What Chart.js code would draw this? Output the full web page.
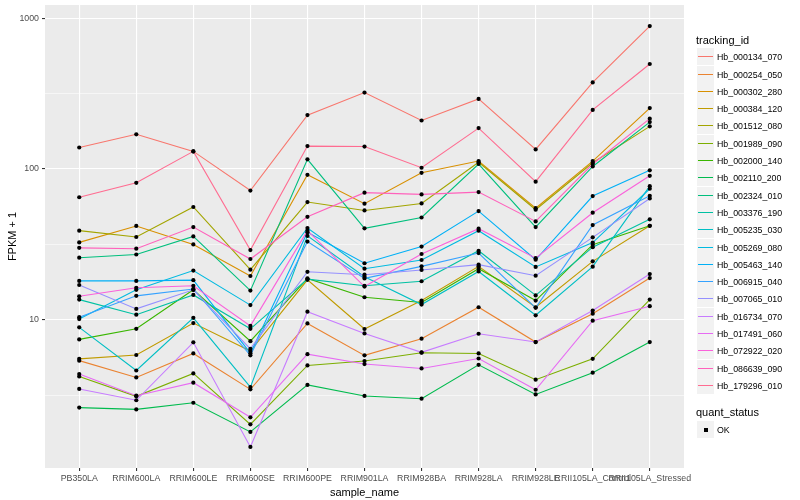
<!DOCTYPE html>
<html>
<head>
<meta charset="utf-8">
<script src="https://cdn.jsdelivr.net/npm/chart.js@4.4.1/dist/chart.umd.min.js"></script>
<style>
  html, body { margin: 0; padding: 0; background: #fff; }
  #wrap { position: relative; width: 800px; height: 500px; font-family: "Liberation Sans", Arial, sans-serif; }
  #wrap canvas { position: absolute; left: 0; top: 0; }
  .lg { position: absolute; white-space: nowrap; color: #000; }
  .lg-title { font-size: 11px; line-height: 13px; }
  .lg-key { position: absolute; width: 17px; height: 17px; background: #F2F2F2; }
  .lg-text { font-size: 8.8px; line-height: 10px; }
</style>
</head>
<body>
<div id="wrap">
  <canvas id="chart" width="800" height="500"></canvas>
  <div id="legend"></div>
</div>
<script>
const sampleNames = ['PB350LA', 'RRIM600LA', 'RRIM600LE', 'RRIM600SE', 'RRIM600PE', 'RRIM901LA',
    'RRIM928BA', 'RRIM928LA', 'RRIM928LE', 'RRII105LA_Control', 'RRII105LA_Stressed'];

const trackingIds = ['Hb_000134_070', 'Hb_000254_050', 'Hb_000302_280', 'Hb_000384_120', 'Hb_001512_080',
    'Hb_001989_090', 'Hb_002000_140', 'Hb_002110_200', 'Hb_002324_010', 'Hb_003376_190',
    'Hb_005235_030', 'Hb_005269_080', 'Hb_005463_140', 'Hb_006915_040', 'Hb_007065_010',
    'Hb_016734_070', 'Hb_017491_060', 'Hb_072922_020', 'Hb_086639_090', 'Hb_179296_010'];

// FPKM + 1, one value per sample
const hb_000134_070 = [139, 170, 131, 72, 228, 322, 210, 292, 135, 376, 889];
const hb_000254_050 = [5.35, 4.14, 5.97, 3.45, 9.45, 5.8, 7.48, 12.1, 7.11, 10.96, 18.9];
const hb_000302_280 = [32.6, 41.9, 31.6, 19.5, 91.6, 58.9, 94.4, 113, 55, 113, 254];
const hb_000384_120 = [5.5, 5.83, 9.5, 6.2, 18.4, 8.68, 13.4, 22.6, 12.1, 24.4, 42];
const hb_001512_080 = [39, 35.4, 56, 21.5, 60.4, 53.1, 59.1, 111, 53.7, 110, 192];
const hb_001989_090 = [4.2, 3.1, 4.4, 2.02, 4.97, 5.32, 6.04, 5.97, 4.0, 5.5, 13.6];
const hb_002000_140 = [7.4, 8.7, 15.8, 7.2, 18.8, 14.1, 13.0, 21.8, 13.4, 31.5, 42];
const hb_002110_200 = [2.61, 2.54, 2.81, 1.8, 3.69, 3.12, 2.99, 5.02, 3.19, 4.45, 7.11];
const hb_002324_010 = [25.8, 27.1, 35.7, 15.6, 116, 40.4, 47.7, 108, 41.2, 104, 205];
const hb_003376_190 = [13.6, 10.8, 14.6, 8.7, 18.6, 16.8, 18, 28.7, 14.5, 30.3, 46.4];
const hb_005235_030 = [8.9, 4.6, 10.3, 3.57, 36, 19.3, 12.6, 20.9, 10.7, 22.5, 77];
const hb_005269_080 = [10.1, 15.8, 21.2, 12.5, 40.6, 21.8, 24.9, 39, 22.4, 32.5, 74];
const hb_005463_140 = [18.1, 18.1, 18.3, 6.0, 38, 23.7, 30.6, 52.6, 25.0, 66.2, 98];
const hb_006915_040 = [10.4, 14.4, 16.0, 5.8, 33, 18.8, 22.6, 27.7, 12.0, 42.5, 66.5];
const hb_007065_010 = [17.0, 11.8, 15.8, 6.4, 20.8, 19.9, 21.4, 23.2, 19.6, 35.2, 63.8];
const hb_016734_070 = [3.47, 2.92, 7.08, 1.43, 11.3, 8.11, 6.07, 8.07, 7.11, 11.5, 20.1];
const hb_017491_060 = [4.36, 3.13, 3.82, 2.25, 5.91, 5.08, 4.75, 5.53, 3.43, 9.85, 12.3];
const hb_072922_020 = [14.3, 16.3, 16.8, 9.1, 39, 16.6, 27.3, 40.2, 25.6, 51.3, 90.2];
const hb_086639_090 = [30.0, 29.6, 41.2, 25.3, 48.2, 69.7, 67.9, 70.3, 44.9, 108, 216];
const hb_179296_010 = [65, 81, 131, 29, 142, 141, 102, 187, 82.4, 247, 498];

const seriesValues = [hb_000134_070, hb_000254_050, hb_000302_280, hb_000384_120, hb_001512_080,
    hb_001989_090, hb_002000_140, hb_002110_200, hb_002324_010, hb_003376_190,
    hb_005235_030, hb_005269_080, hb_005463_140, hb_006915_040, hb_007065_010,
    hb_016734_070, hb_017491_060, hb_072922_020, hb_086639_090, hb_179296_010];

const quantStatus = ['OK'];

const yMajor = [10, 100, 1000];
const yMinor = [3.1623, 31.623, 316.23];

// ggplot hue palette, 20 levels
const lineColors = ['#F8766D', '#EA8331', '#D89000', '#C09B00', '#A3A500', '#7CAE00', '#39B600', '#00BB4E',
    '#00BF7D', '#00C1A3', '#00BFC4', '#00BAE0', '#00B0F6', '#35A2FF', '#9590FF', '#C77CFF',
    '#E76BF3', '#FA62DB', '#FF62BC', '#FF6C91'];

const fontFamily = '"Liberation Sans", Arial, sans-serif';

const panelBg = {
    id: 'panelBg',
    beforeDraw(chart) {
        const a = chart.chartArea;
        const c = chart.ctx;
        c.save();
        c.fillStyle = '#EBEBEB';
        c.fillRect(a.left, a.top, a.right - a.left, a.bottom - a.top);
        c.restore();
    }
};

const datasets = seriesValues.map((vals, k) => ({
    label: trackingIds[k],
    data: vals.map((v, i) => ({ x: i, y: v })),
    borderColor: lineColors[k],
    borderWidth: 1.1,
    pointRadius: 0,
    tension: 0,
    order: 100 - k
}));

// all points in black on top of the lines
datasets.push({
    label: 'quant_status',
    data: seriesValues.flatMap(vals => vals.map((v, i) => ({ x: i, y: v }))),
    showLine: false,
    pointRadius: 2.1,
    pointBackgroundColor: '#000',
    pointBorderWidth: 0,
    order: 0
});

const isMajor = v => yMajor.some(m => Math.abs(m - v) < 1e-6);

new Chart(document.getElementById('chart').getContext('2d'), {
    type: 'line',
    data: { datasets: datasets },
    options: {
        responsive: false,
        animation: false,
        layout: { padding: { top: 5, right: 116, left: 0, bottom: 0 } },
        plugins: { legend: { display: false }, tooltip: { enabled: false } },
        scales: {
            x: {
                type: 'linear',
                min: -0.6,
                max: 10.6,
                bounds: 'data',
                afterBuildTicks: s => { s.ticks = sampleNames.map((n, i) => ({ value: i })); },
                afterFit: s => { s.height = 32; s.paddingLeft = 0; s.paddingRight = 0; },
                border: { display: false },
                grid: { color: '#FFFFFF', lineWidth: 1.1, drawTicks: true, tickLength: 3, tickColor: '#333333', tickWidth: 1.1 },
                ticks: {
                    autoSkip: false, maxRotation: 0, minRotation: 0, padding: 2,
                    color: '#4D4D4D', font: { family: fontFamily, size: 8.8 },
                    callback: v => sampleNames[v]
                },
                title: { display: true, text: 'sample_name', color: '#000', font: { family: fontFamily, size: 11 }, padding: { top: 5.4, bottom: 0 } }
            },
            y: {
                type: 'logarithmic',
                min: 1.037,
                max: 1227,
                bounds: 'data',
                afterBuildTicks: s => {
                    s.ticks = yMinor.concat(yMajor).sort((a, b) => a - b).map(v => ({ value: v }));
                },
                afterFit: s => { s.width = 45; s.paddingTop = 0; s.paddingBottom = 0; },
                border: { display: false },
                grid: {
                    color: '#FFFFFF',
                    lineWidth: c => isMajor(c.tick.value) ? 1.1 : 0.55,
                    drawTicks: true, tickLength: 3, tickWidth: 1.1,
                    tickColor: c => isMajor(c.tick.value) ? '#333333' : 'rgba(0,0,0,0)'
                },
                ticks: {
                    padding: 3, color: '#4D4D4D', font: { family: fontFamily, size: 8.8 },
                    callback: v => isMajor(v) ? String(Math.round(v)) : ''
                },
                title: { display: true, text: 'FPKM + 1', color: '#000', font: { family: fontFamily, size: 11 }, padding: { top: 6.4, bottom: 0 } }
            }
        }
    },
    plugins: [panelBg]
});

// legend in ggplot style
const legend = document.getElementById('legend');
function addDiv(cls, left, top, text) {
    const d = document.createElement('div');
    d.className = cls;
    d.style.left = left + 'px';
    d.style.top = top + 'px';
    if (text !== undefined) d.textContent = text;
    legend.appendChild(d);
    return d;
}
addDiv('lg lg-title', 696, 34, 'tracking_id');
trackingIds.forEach((id, k) => {
    const top = Math.round(56.7 + 17.3 * k - 8.5);
    const key = addDiv('lg-key', 697, top);
    const ln = document.createElement('div');
    ln.style.cssText = 'position:absolute;left:1px;width:15px;top:7.5px;height:1.6px;background:' + lineColors[k];
    key.appendChild(ln);
    addDiv('lg lg-text', 717, top + 3.5, id);
});
addDiv('lg lg-title', 696, 406, 'quant_status');
quantStatus.forEach((s, k) => {
    const top = Math.round(429.7 + 17.3 * k - 8.5);
    const key = addDiv('lg-key', 697, top);
    const pt = document.createElement('div');
    pt.style.cssText = 'position:absolute;left:7px;top:7px;width:4px;height:4px;background:#000';
    key.appendChild(pt);
    addDiv('lg lg-text', 717, top + 3.5, s);
});
</script>
</body>
</html>
